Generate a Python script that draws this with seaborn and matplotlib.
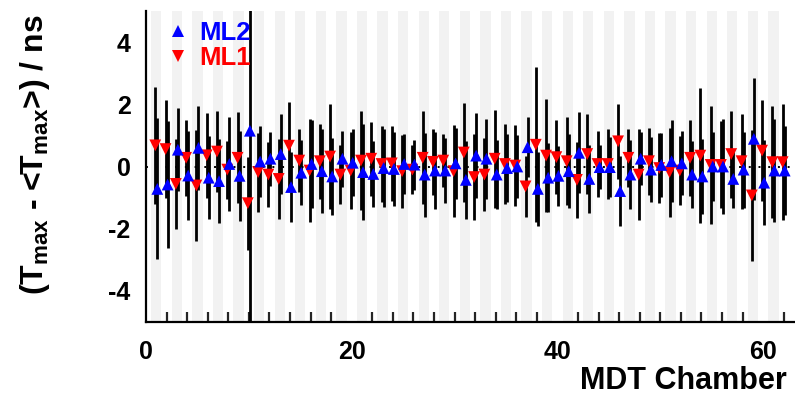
import numpy as np
import pandas as pd
import matplotlib
matplotlib.use("Agg")
import matplotlib.pyplot as plt
from matplotlib.lines import Line2D
from matplotlib.ticker import MultipleLocator
import seaborn as sns

# ---------------- data ----------------
chambers = list(range(1, 63))

ml1_val = [0.68, 0.56, -0.56, 0.28, -0.61, 0.36, 0.48, -0.10, 0.28, -1.18,
           -0.18, -0.26, -0.40, 0.67, 0.19, -0.13, 0.17, 0.32, -0.26, -0.13,
           0.19, 0.25, 0.08, 0.10, -0.15, -0.10, 0.28, 0.15, 0.19, -0.15,
           0.45, -0.34, -0.26, 0.25, 0.08, 0.03, -0.64, 0.70, 0.35, 0.30,
           0.17, -0.43, 0.40, 0.08, 0.08, 0.81, 0.28, -0.26, 0.17, -0.05,
           -0.18, -0.13, 0.28, 0.35, 0.05, 0.05, 0.40, 0.17, -0.93, 0.51,
           0.14, 0.14]
ml1_err = [1.88, 1.58, 1.45, 1.23, 1.79, 1.36, 1.30, 0.93, 1.46, 1.50,
           1.27, 1.05, 1.29, 1.39, 1.00, 1.65, 1.20, 1.70, 0.95, 1.25,
           1.60, 1.19, 1.21, 1.20, 1.17, 0.80, 1.50, 1.07, 0.84, 1.47,
           1.60, 1.39, 1.18, 1.57, 1.30, 1.30, 0.97, 2.50, 1.82, 1.18,
           1.42, 1.23, 1.30, 1.06, 1.13, 1.20, 0.93, 1.45, 1.08, 1.12,
           1.43, 1.12, 1.23, 2.16, 1.90, 1.40, 1.40, 1.53, 2.10, 1.62,
           1.80, 1.86]

ml2_val = [-0.72, -0.58, 0.54, -0.29, 0.60, -0.36, -0.47, 0.08, -0.30, 1.15,
           0.16, 0.25, 0.40, -0.66, -0.20, 0.08, -0.15, -0.32, 0.25, 0.12,
           -0.18, -0.24, -0.05, -0.08, 0.08, 0.06, -0.26, -0.13, -0.13, 0.10,
           -0.43, 0.35, 0.25, -0.26, -0.05, 0.00, 0.62, -0.72, -0.36, -0.30,
           -0.15, 0.44, -0.40, -0.02, -0.02, -0.79, -0.26, 0.25, -0.10, 0.05,
           0.17, 0.10, -0.26, -0.32, 0.00, 0.00, -0.40, -0.10, 0.89, -0.52,
           -0.13, -0.13]
ml2_err = [2.27, 2.03, 1.34, 1.44, 1.35, 1.34, 1.34, 1.50, 1.44, 7.00,
           1.15, 0.87, 1.29, 1.12, 1.04, 1.40, 1.35, 1.25, 0.90, 1.07,
           1.55, 1.06, 1.24, 1.20, 0.97, 0.80, 1.35, 1.23, 1.04, 1.13,
           1.25, 1.37, 1.28, 1.10, 1.10, 1.00, 0.96, 1.20, 1.10, 0.96,
           1.20, 1.30, 1.10, 0.70, 0.96, 1.12, 1.10, 0.85, 1.04, 1.04,
           1.32, 1.03, 1.07, 1.21, 1.10, 1.52, 0.92, 1.22, 1.96, 1.37,
           1.66, 1.43]

series = ["ML1", "ML2"]
x_ticks = [0, 20, 40, 60]
y_ticks = [-4, -2, 0, 2, 4]

# ---------------- style ----------------
sns.set_theme(style="white")
plt.rcParams["font.family"] = ["Liberation Sans", "DejaVu Sans"]
plt.rcParams["font.weight"] = "bold"
plt.rcParams["axes.unicode_minus"] = False
plt.rcParams["mathtext.fontset"] = "custom"
plt.rcParams["mathtext.rm"] = "Liberation Sans:bold"
plt.rcParams["mathtext.bf"] = "Liberation Sans:bold"
plt.rcParams["mathtext.it"] = "Liberation Sans:bold"
plt.rcParams["mathtext.default"] = "bf"

offsets = {"ML1": -0.1, "ML2": 0.1}
colors = {"ML1": "#ff0000", "ML2": "#0000ff"}
markers = {"ML1": "v", "ML2": "^"}

frames = []
for name, vals, errs in (("ML1", ml1_val, ml1_err), ("ML2", ml2_val, ml2_err)):
    frames.append(pd.DataFrame({
        "chamber": chambers,
        "layer": name,
        "value": vals,
        "err": errs,
    }))
df = pd.concat(frames, ignore_index=True)
df["x"] = df["chamber"] + df["layer"].map(offsets)

W, H = 795, 396
fig = plt.figure(figsize=(W / 100, H / 100), dpi=100)
ax = fig.add_axes([146 / W, (H - 322) / H, (W - 146) / W, (322 - 11) / H])

# alternating grey bands
for c in chambers:
    if c % 2 == 1:
        ax.axvspan(c - 0.5, c + 0.5, color="#f2f2f2", lw=0, zorder=0)

ax.axhline(0, color="black", lw=1.4, ls=(0, (1, 4)), zorder=1)

for name in series:
    sub = df[df["layer"] == name]
    ax.errorbar(sub["x"], sub["value"], yerr=sub["err"], fmt="none",
                ecolor="black", elinewidth=2.0, capsize=0, zorder=2)

sns.scatterplot(data=df, x="x", y="value", hue="layer", style="layer",
                markers=markers, palette=colors, s=72, linewidth=0,
                legend=False, zorder=3, ax=ax)

ax.set_xlim(0, 63.1)
ax.set_ylim(-5, 5)
ax.set_xticks(x_ticks)
ax.xaxis.set_minor_locator(MultipleLocator(2))
ax.set_yticks(y_ticks)
ax.set_xticklabels([str(t) for t in x_ticks])
ax.set_yticklabels([str(t) for t in y_ticks])

for s in ("top", "right"):
    ax.spines[s].set_visible(False)
for s in ("left", "bottom"):
    ax.spines[s].set_color("black")
    ax.spines[s].set_linewidth(1.6)

ax.tick_params(axis="y", which="major", direction="in", length=14, width=1.6,
               pad=11, labelsize=18, colors="black")
ax.tick_params(axis="x", which="major", direction="in", length=14, width=1.6,
               pad=13, labelsize=18, colors="black")
ax.tick_params(axis="x", which="minor", direction="in", length=7, width=1.6,
               bottom=True)
ax.tick_params(axis="y", which="minor", left=False)
for lab in ax.get_xticklabels() + ax.get_yticklabels():
    lab.set_fontweight("bold")

ax.set_xlabel("MDT Chamber", fontsize=22, fontweight="bold", ha="right",
              va="baseline", color="black")
ax.xaxis.set_label_coords((787 - 146) / (W - 146), -(389 - 322) / (322 - 11))
ax.set_ylabel(r"(T$_{max}$ - <T$_{max}$>) / ns", fontsize=23,
              fontweight="bold", color="black", va="center")
ax.yaxis.set_label_coords(-(146 - 35) / (W - 146), (322 - 155) / (322 - 11))

handles = [Line2D([], [], ls="none", marker=markers[n], color=colors[n],
                  markersize=9, markeredgewidth=0) for n in ("ML2", "ML1")]
leg = ax.legend(handles, ["ML2", "ML1"], loc="upper left",
                bbox_to_anchor=(0.022, 0.985), frameon=False, fontsize=18.5,
                handlelength=1.0, handletextpad=0.3, labelspacing=0.05,
                borderpad=0.2, borderaxespad=0.0)
for txt, n in zip(leg.get_texts(), ("ML2", "ML1")):
    txt.set_color(colors[n])
    txt.set_fontweight("bold")

fig.savefig("out.png", dpi=100)
